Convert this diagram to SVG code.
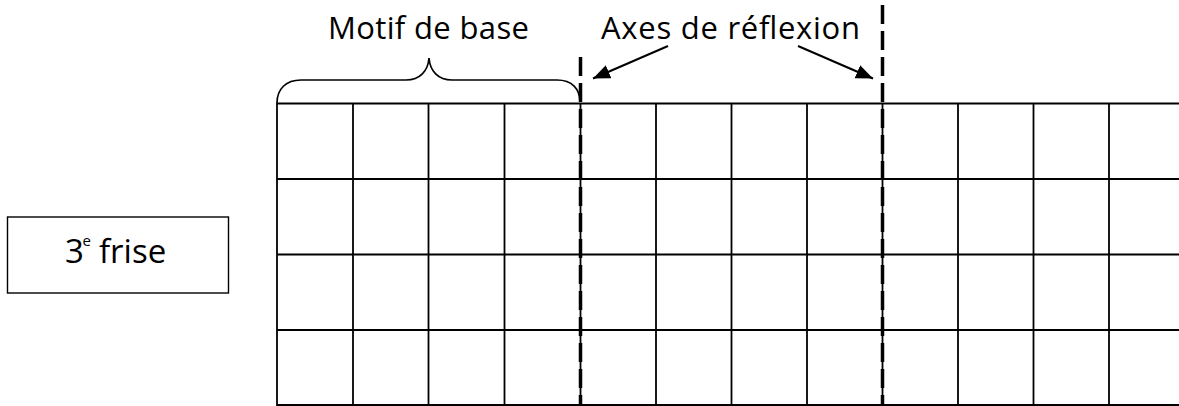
<svg xmlns="http://www.w3.org/2000/svg" width="1179" height="406" viewBox="0 0 1179 406">
  <style>
    .lbl { font-family: "Open Sans", "Noto Sans", "Liberation Sans", sans-serif; fill: #000; }
    .grid line { stroke: #000; stroke-width: 1.8; }
    .axis { stroke: #000; stroke-width: 3.5; stroke-dasharray: 19 7; fill: none; }
    .arrow { stroke: #000; stroke-width: 2; fill: none; marker-end: url(#ah); }
    .brace { stroke: #000; stroke-width: 1.7; fill: none; }
  </style>
  <defs>
    <marker id="ah" markerUnits="userSpaceOnUse" markerWidth="19" markerHeight="15" refX="17" refY="7" orient="auto">
      <path d="M0,0 L17,7 L0,14 z" fill="#000"/>
    </marker>
  </defs>
  <rect width="1179" height="406" fill="#fff"/>

  <g id="label-frise">
    <rect x="7.5" y="217" width="221" height="76" fill="#fff" stroke="#000" stroke-width="1.4"/>
    <text class="lbl" font-size="33" y="262.5"><tspan x="65">3</tspan><tspan x="82.5" y="245.5" font-size="15">e</tspan><tspan x="99" y="262.5">frise</tspan></text>
  </g>

  <g id="grid" class="grid">
    <line x1="277" y1="103.5" x2="1179" y2="103.5"/>
    <line x1="277" y1="179" x2="1179" y2="179"/>
    <line x1="277" y1="254.5" x2="1179" y2="254.5"/>
    <line x1="277" y1="330" x2="1179" y2="330"/>
    <line x1="277" y1="405" x2="1179" y2="405"/>
    <line x1="277" y1="103" x2="277" y2="406"/>
    <line x1="353" y1="103" x2="353" y2="406"/>
    <line x1="428.5" y1="103" x2="428.5" y2="406"/>
    <line x1="504.5" y1="103" x2="504.5" y2="406"/>
    <line x1="580.5" y1="103" x2="580.5" y2="406"/>
    <line x1="656" y1="103" x2="656" y2="406"/>
    <line x1="731.5" y1="103" x2="731.5" y2="406"/>
    <line x1="807" y1="103" x2="807" y2="406"/>
    <line x1="882.5" y1="103" x2="882.5" y2="406"/>
    <line x1="958" y1="103" x2="958" y2="406"/>
    <line x1="1033.5" y1="103" x2="1033.5" y2="406"/>
    <line x1="1109" y1="103" x2="1109" y2="406"/>
  </g>

  <g id="motif-de-base">
    <path class="brace" d="M277,103 C277,89 286,80 301,80 L406,80 C420,80 428,71 429,58 C430,71 438,80 452,80 L557,80 C572,80 580,89 580,102"/>
    <text class="lbl" font-size="31" x="328" y="38.5" textLength="201" lengthAdjust="spacing">Motif de base</text>
  </g>

  <g id="axes-de-reflexion">
    <text class="lbl" font-size="31" x="601" y="38.5" textLength="259" lengthAdjust="spacing">Axes de réflexion</text>
  </g>

  <g id="connectors">
    <line class="axis" x1="580.5" y1="57" x2="580.5" y2="406"/>
    <line class="axis" x1="882.5" y1="5" x2="882.5" y2="406"/>
    <line class="arrow" x1="668" y1="46" x2="593" y2="78.5"/>
    <line class="arrow" x1="798" y1="46" x2="873" y2="78.5"/>
  </g>
</svg>
